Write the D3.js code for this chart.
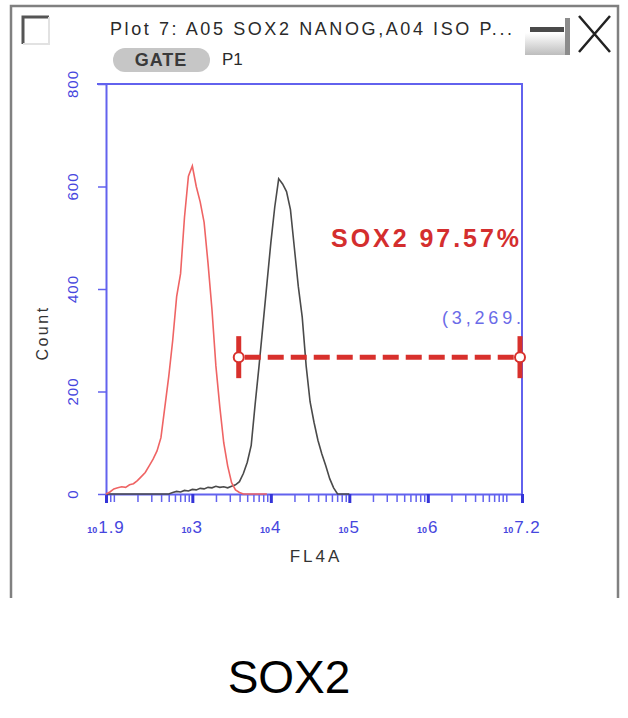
<!DOCTYPE html>
<html>
<head>
<meta charset="utf-8">
<script src="https://cdn.jsdelivr.net/npm/d3@7"></script>
<style>
  body { margin: 0; background: #fff; }
  svg { display: block; }
  text { font-family: "Liberation Sans", Arial, sans-serif; }
</style>
</head>
<body>
<svg id="canvas"></svg>
<script>
// histogram bins, channel exponent (log10 of FL4A)
const binExp = [1.90, 1.95, 2.00, 2.05, 2.10, 2.15, 2.20, 2.25, 2.30, 2.35, 2.40, 2.45, 2.50, 2.55, 2.60, 2.65,
  2.70, 2.75, 2.80, 2.85, 2.90, 2.95, 3.00, 3.05, 3.10, 3.15, 3.20, 3.25, 3.30, 3.35, 3.40, 3.45,
  3.50, 3.55, 3.60, 3.65, 3.70, 3.75, 3.80, 3.85, 3.90, 3.95, 4.00, 4.05, 4.10, 4.15, 4.20, 4.25,
  4.30, 4.35, 4.40, 4.45, 4.50, 4.55, 4.60, 4.65, 4.70, 4.75, 4.80, 4.85, 4.90, 4.95, 5.00];

// A04 ISO (red)
const isoCount = [0, 4, 10, 12, 14, 13, 18, 20, 26, 34, 42, 55, 68, 84, 110, 170,
  230, 300, 385, 430, 540, 620, 640, 600, 570, 530, 450, 360, 250, 170, 100, 55,
  22, 8, 3, 0, 0, 0, 0, 0, 0, 0, null, null, null, null, null, null,
  null, null, null, null, null, null, null, null, null, null, null, null, null, null, null];

// A05 SOX2 (black)
const sox2Count = [0, 0, 0, 0, 0, 0, 0, 0, 0, 0, 0, 0, 0, 0, 0, 0,
  0, 3, 5, 4, 7, 6, 9, 8, 11, 10, 13, 12, 15, 13, 14, 12,
  15, 18, 24, 40, 62, 95, 175, 250, 330, 410, 490, 560, 615, 605, 590, 555,
  480, 405, 345, 250, 180, 140, 105, 78, 55, 30, 12, 0, 0, 0, 0];

const yTicks = [0, 200, 400, 600, 800];
const xLabelExp = [1.9, 3, 4, 5, 6, 7.2];
const gate = { lo: 3900, hi: Math.pow(10, 7.2), count: 267 };

const width = 628;
const height = 718;
const axisBlue = '#6262ee';
const labelBlue = '#4646de';

const svg = d3.select('#canvas')
  .attr('width', width)
  .attr('height', height);

svg.append('rect').attr('width', width).attr('height', height).attr('fill', '#fff');

// window frame
svg.append('path')
  .attr('d', 'M11,598 V6 H618 V598')
  .attr('fill', 'none')
  .attr('stroke', '#808080')
  .attr('stroke-width', 2.5);

// small square icon top left
svg.append('path').attr('d', 'M49,17 H23 V44').attr('fill', 'none').attr('stroke', '#555').attr('stroke-width', 3);
svg.append('path').attr('d', 'M49,17 V44 H23').attr('fill', 'none').attr('stroke', '#e2e2e2').attr('stroke-width', 2);

// minimise / close buttons
const grad = svg.append('defs').append('linearGradient')
  .attr('id', 'minGrad').attr('x1', 0).attr('y1', 0).attr('x2', 0).attr('y2', 1);
grad.append('stop').attr('offset', '0%').attr('stop-color', '#ffffff');
grad.append('stop').attr('offset', '100%').attr('stop-color', '#bdbdbd');
svg.append('rect').attr('x', 525).attr('y', 33).attr('width', 42).attr('height', 22).attr('fill', 'url(#minGrad)');
svg.append('rect').attr('x', 530).attr('y', 27).attr('width', 34).attr('height', 5).attr('fill', '#4a4a4a');
svg.append('rect').attr('x', 565).attr('y', 18).attr('width', 5).attr('height', 37).attr('fill', '#8c8c8c');
svg.append('path')
  .attr('d', 'M579,16 L610,52 M610,16 L579,52')
  .attr('stroke', '#222').attr('stroke-width', 2.5);

// header
svg.append('text')
  .attr('x', 110).attr('y', 35)
  .attr('font-size', 18)
  .attr('fill', '#2a2a2a')
  .attr('textLength', 402)
  .attr('lengthAdjust', 'spacing')
  .text('Plot 7: A05 SOX2 NANOG,A04 ISO P...');

svg.append('rect')
  .attr('x', 113).attr('y', 48).attr('width', 97).attr('height', 24).attr('rx', 12)
  .attr('fill', '#c6c6c6');
svg.append('text')
  .attr('x', 161).attr('y', 66)
  .attr('text-anchor', 'middle')
  .attr('font-size', 18)
  .attr('font-weight', 'bold')
  .attr('letter-spacing', 1)
  .attr('fill', '#3a3a3a')
  .text('GATE');
svg.append('text')
  .attr('x', 222).attr('y', 65)
  .attr('font-size', 17)
  .attr('fill', '#2a2a2a')
  .text('P1');

// scales
const x = d3.scaleLog()
  .domain([Math.pow(10, 1.9), Math.pow(10, 7.2)])
  .range([106, 522]);
const y = d3.scaleLinear()
  .domain([0, 800])
  .range([494, 84]);

// plot box (top + right)
svg.append('path')
  .attr('d', `M97,${y(800)} H${x.range()[1]} V${y(0)}`)
  .attr('fill', 'none')
  .attr('stroke', axisBlue)
  .attr('stroke-width', 2);

// x axis, minor ticks
const [d0, d1] = x.domain();
const minorTicks = x.ticks().filter(v => v >= d0 && v <= d1);
const xMinor = svg.append('g')
  .attr('transform', `translate(0,${y(0)})`)
  .call(d3.axisBottom(x).tickValues(minorTicks).tickSize(8).tickSizeOuter(0).tickFormat(''));
xMinor.select('.domain').attr('stroke', axisBlue).attr('stroke-width', 2);
xMinor.selectAll('.tick line').attr('stroke', axisBlue).attr('stroke-width', 1.5);

// x axis, major ticks
const majorTicks = xLabelExp.map(e => Math.pow(10, e));
const xMajor = svg.append('g')
  .attr('transform', `translate(0,${y(0)})`)
  .call(d3.axisBottom(x).tickValues(majorTicks).tickSize(9).tickSizeOuter(0).tickFormat(''));
xMajor.select('.domain').remove();
xMajor.selectAll('.tick line').attr('stroke', '#3434d8').attr('stroke-width', 3);

// x labels: small "10" then exponent
xLabelExp.forEach(e => {
  const t = svg.append('text')
    .attr('x', x(Math.pow(10, e)))
    .attr('y', 533)
    .attr('text-anchor', 'middle')
    .attr('fill', labelBlue);
  t.append('tspan').attr('font-size', 9).attr('font-weight', 'bold').text('10');
  t.append('tspan').attr('font-size', 17).attr('letter-spacing', 1).attr('dx', 1).text(e);
});

svg.append('text')
  .attr('x', 316).attr('y', 562)
  .attr('text-anchor', 'middle')
  .attr('font-size', 17)
  .attr('letter-spacing', 3)
  .attr('fill', '#333')
  .text('FL4A');

// y axis
const yAxis = svg.append('g')
  .attr('transform', `translate(${x.range()[0]},0)`)
  .call(d3.axisLeft(y).tickValues(yTicks).tickSize(8).tickSizeOuter(0).tickFormat(''));
yAxis.select('.domain').attr('stroke', axisBlue).attr('stroke-width', 2);
yAxis.selectAll('.tick line').attr('stroke', axisBlue).attr('stroke-width', 1.5);

svg.selectAll('.ylab')
  .data(yTicks)
  .enter()
  .append('text')
  .attr('class', 'ylab')
  .attr('transform', d => `translate(73,${y(d)}) rotate(-90)`)
  .attr('text-anchor', 'middle')
  .attr('dy', '0.35em')
  .attr('font-size', 15)
  .attr('letter-spacing', 1)
  .attr('fill', labelBlue)
  .text(d => d);

svg.append('text')
  .attr('transform', `translate(48,333) rotate(-90)`)
  .attr('text-anchor', 'middle')
  .attr('font-size', 16)
  .attr('letter-spacing', 2.5)
  .attr('fill', '#333')
  .text('Count');

// histograms
const line = d3.line()
  .defined(d => d[1] !== null)
  .x(d => x(Math.pow(10, d[0])))
  .y(d => y(d[1]));

svg.append('path')
  .datum(binExp.map((e, i) => [e, sox2Count[i]]))
  .attr('d', line)
  .attr('fill', 'none')
  .attr('stroke', '#4a4a4a')
  .attr('stroke-width', 1.6);

svg.append('path')
  .datum(binExp.map((e, i) => [e, isoCount[i]]))
  .attr('d', line)
  .attr('fill', 'none')
  .attr('stroke', '#ef6464')
  .attr('stroke-width', 1.6);

// gate marker
const gateRed = '#d8302c';
const gx0 = x(gate.lo);
const gx1 = x(gate.hi) - 2;
const gy = y(gate.count);
svg.append('line')
  .attr('x1', gx0 + 6).attr('x2', gx1 - 6)
  .attr('y1', gy).attr('y2', gy)
  .attr('stroke', gateRed)
  .attr('stroke-width', 5)
  .attr('stroke-dasharray', '16 7');
[gx0, gx1].forEach(gxv => {
  svg.append('line')
    .attr('x1', gxv).attr('x2', gxv)
    .attr('y1', gy - 21).attr('y2', gy + 21)
    .attr('stroke', gateRed)
    .attr('stroke-width', 5);
  svg.append('circle')
    .attr('cx', gxv).attr('cy', gy).attr('r', 5)
    .attr('fill', '#fff')
    .attr('stroke', gateRed)
    .attr('stroke-width', 2);
});

svg.append('text')
  .attr('x', 331).attr('y', 247)
  .attr('font-size', 25)
  .attr('font-weight', 'bold')
  .attr('fill', '#d42e2e')
  .attr('textLength', 188)
  .attr('lengthAdjust', 'spacing')
  .text('SOX2  97.57%');

svg.append('text')
  .attr('x', 442).attr('y', 324)
  .attr('font-size', 18)
  .attr('fill', '#6b6be8')
  .attr('textLength', 79)
  .attr('lengthAdjust', 'spacing')
  .text('(3,269.');

// caption
svg.append('text')
  .attr('x', 289).attr('y', 693)
  .attr('text-anchor', 'middle')
  .attr('font-size', 46)
  .attr('fill', '#000')
  .text('SOX2');
</script>
</body>
</html>
